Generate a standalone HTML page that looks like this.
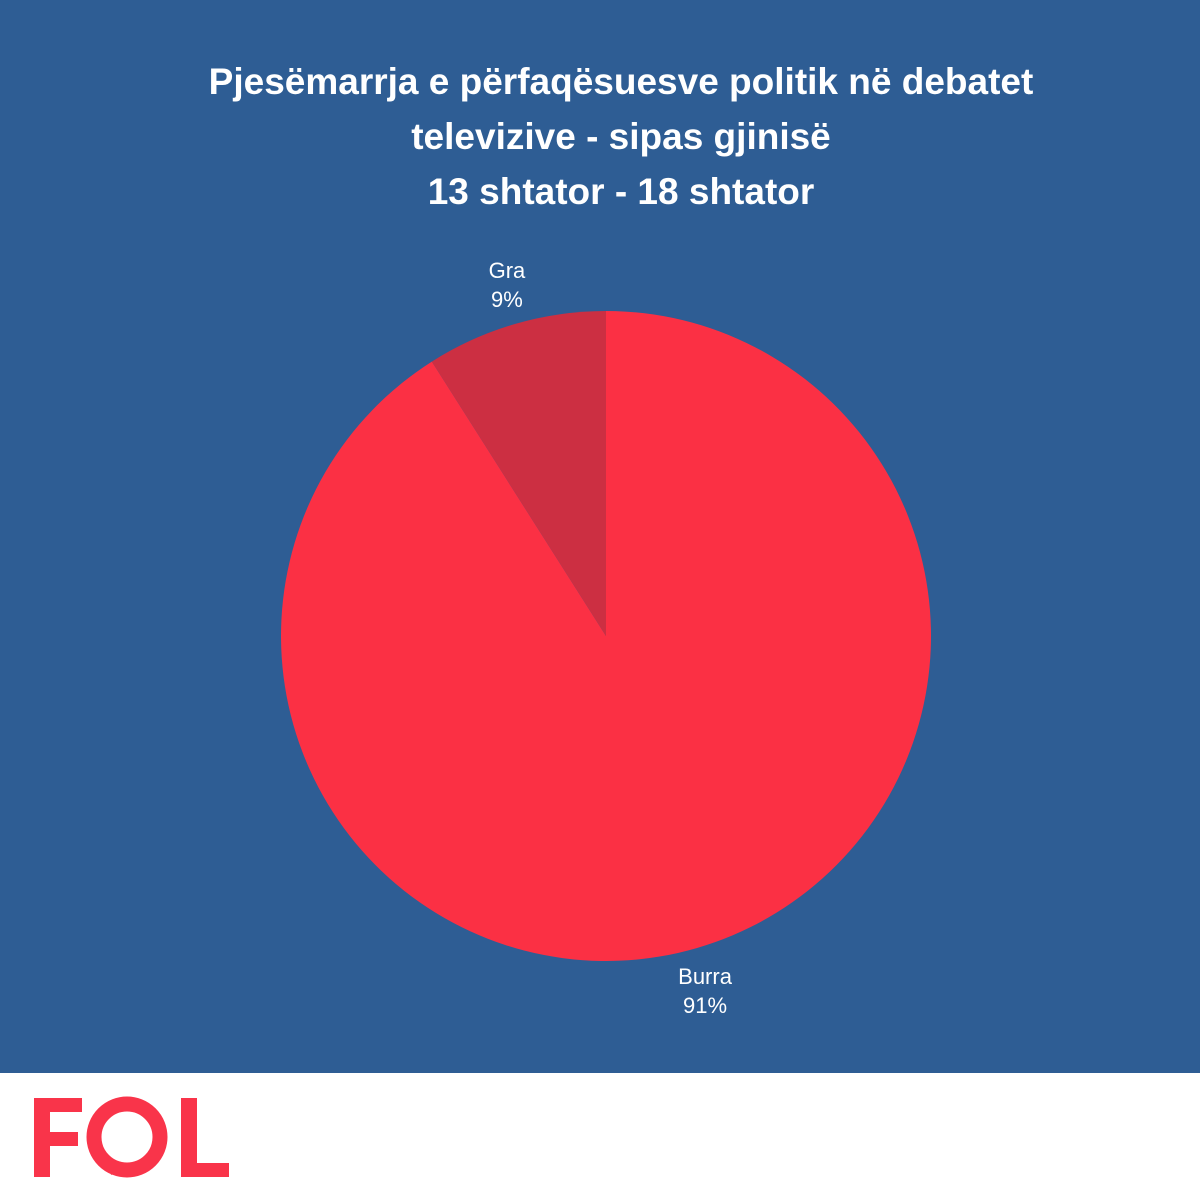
<!DOCTYPE html>
<html><head><meta charset="utf-8"><style>
html,body{margin:0;padding:0}
body{width:1200px;height:1200px;position:relative;background:#fff;font-family:"Liberation Sans",sans-serif;overflow:hidden}
#bg{position:absolute;left:0;top:0;width:1200px;height:1073px;background:#2e5d94}
#title{position:absolute;left:0;top:54px;width:1242px;text-align:center;color:#fff;font-weight:bold;font-size:37px;line-height:55px}
svg{position:absolute;left:0;top:0}
</style></head><body>
<div id="bg"></div>
<div id="title">Pjesëmarrja e përfaqësuesve politik në debatet<br>televizive - sipas gjinisë<br>13 shtator - 18 shtator</div>
<svg id="chart" width="1200" height="1200">
<g id="slices"></g><g id="labels"></g>
<g fill="#f9344a">
<path d="M34 1098h48v14H50v20h28v14H50v31H34z"/>
<circle cx="127" cy="1137" r="33" fill="none" stroke="#f9344a" stroke-width="15"/>
<path d="M108 1160l3 15 16-8z"/>
<path d="M181 1098h16v65h32v14h-48z"/>
</g>
</svg>
<script>
const categories=["Burra","Gra"];
const values=[91,9];
const colors=["#fb3044","#cc2f42"];
const cx=606,cy=636,r=325;
const ns="http://www.w3.org/2000/svg";
const total=values.reduce((a,b)=>a+b,0);
const sl=document.getElementById('slices'),lb=document.getElementById('labels');
let a0=0;
function pt(a,rr){return [cx+rr*Math.sin(a),cy-rr*Math.cos(a)];}
values.forEach((v,i)=>{
  const a1=a0+v/total*2*Math.PI;
  const p0=pt(a0,r),p1=pt(a1,r);
  const large=(a1-a0)>Math.PI?1:0;
  const p=document.createElementNS(ns,'path');
  p.setAttribute('d',`M${cx},${cy}L${p0[0]},${p0[1]}A${r},${r} 0 ${large} 1 ${p1[0]},${p1[1]}Z`);
  p.setAttribute('fill',colors[i]);
  
  
  sl.appendChild(p);
  const mid=(a0+a1)/2;
  const lp=pt(mid,r+30);
  const up=Math.cos(mid)>0;
  [categories[i],v+'%'].forEach((t,j)=>{
    const tx=document.createElementNS(ns,'text');
    tx.setAttribute('x',lp[0]);
    tx.setAttribute('y',(up?lp[1]-17:lp[1]+7)+j*29);
    tx.setAttribute('text-anchor','middle');
    tx.setAttribute('fill','#fff');
    tx.setAttribute('font-size','22');
    tx.setAttribute('font-family','Liberation Sans, sans-serif');
    
    
    tx.textContent=t;
    lb.appendChild(tx);
  });
  a0=a1;
});
</script>
</body></html>
